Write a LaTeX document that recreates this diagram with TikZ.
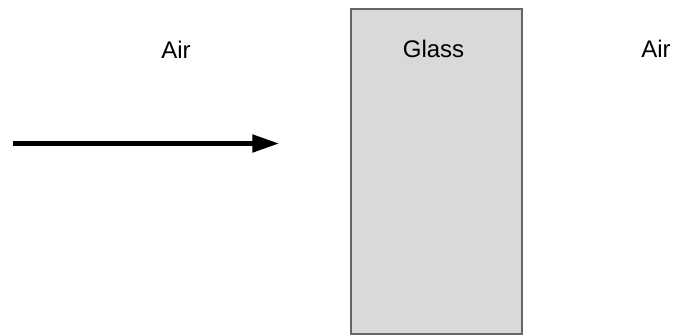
\documentclass[tikz,border=0pt]{standalone}
\usepackage{fontspec}
\setmainfont{Liberation Sans}
\usetikzlibrary{arrows.meta}
\definecolor{glassfill}{HTML}{D9D9D9}
\definecolor{glassedge}{HTML}{666666}
\tikzset{
  label text/.style={font=\fontsize{24}{28}\selectfont, anchor=base},
  medium/.style={draw=glassedge, line width=2pt, fill=glassfill},
  ray/.style={line width=5pt, -{Triangle[length=27pt,width=17pt]}}
}
\begin{document}
\begin{tikzpicture}[x=1pt,y=-1pt]
  \useasboundingbox (0,0) rectangle (676,335);
  % glass slab
  \node[medium, minimum width=171pt, minimum height=325.5pt, inner sep=0pt,
        anchor=north west] (glass) at (349.5,7.5) {};
  % media labels
  \node[label text] (airL) at (176,58) {Air};
  \node[label text] (glassL) at (433.5,57) {Glass};
  \node[label text] (airR) at (656,57) {Air};
  % incident ray
  \coordinate (rayS) at (12.7,143.5);
  \coordinate (rayE) at (279.3,143.5);
  \draw[ray] (rayS) -- (rayE);
\end{tikzpicture}
\end{document}
